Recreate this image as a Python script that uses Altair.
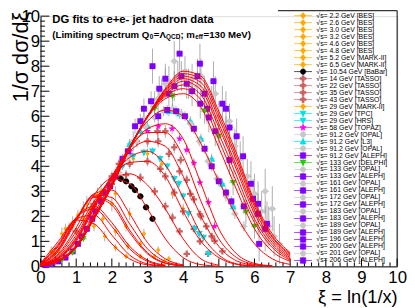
import altair as alt
import pandas as pd

# ---------------- data ----------------
XI = [0.0, 0.5, 1.0, 1.5, 2.0, 2.5, 3.0, 3.5, 4.0, 4.5, 5.0, 5.5, 6.0, 6.5, 7.0]

FIT_NAMES = ["2.2", "2.6", "3.0", "3.2", "4.6", "4.8", "5.2", "6.5", "10.54", "14", "22", "29",
             "35", "43", "58", "91.2", "133", "161", "172", "183", "189", "196", "200", "206"]
FIT_Y = [
    [0.12, 1.0, 1.85, 1.7, 0.9, 0.3, 0.06, 0.01],
    [0.10, 0.9, 1.9, 2.05, 1.25, 0.45, 0.10, 0.02],
    [0.10, 0.85, 1.95, 2.3, 1.6, 0.7, 0.2, 0.04],
    [0.10, 0.8, 1.95, 2.4, 1.75, 0.8, 0.25, 0.05],
    [0.08, 0.7, 1.9, 2.75, 2.45, 1.35, 0.5, 0.12, 0.02],
    [0.08, 0.7, 1.9, 2.8, 2.55, 1.45, 0.55, 0.14, 0.02],
    [0.08, 0.65, 1.85, 2.85, 2.75, 1.7, 0.7, 0.2, 0.04],
    [0.07, 0.6, 1.8, 2.9, 3.05, 2.1, 0.95, 0.3, 0.06],
    [0.06, 0.5, 1.55, 2.85, 3.5, 3.3, 2.3, 1.1, 0.35, 0.07, 0.01],
    [0.05, 0.45, 1.4, 2.6, 3.45, 3.7, 3.25, 2.3, 1.1, 0.3, 0.05],
    [0.04, 0.4, 1.25, 2.5, 3.55, 4.15, 4.2, 3.6, 2.2, 1.0, 0.35, 0.08, 0.01],
    [0.03, 0.35, 1.15, 2.45, 3.6, 4.35, 4.6, 4.05, 2.75, 1.3, 0.45, 0.1, 0.02],
    [0.03, 0.35, 1.1, 2.4, 3.6, 4.6, 5.0, 4.8, 3.6, 2.0, 0.8, 0.22, 0.05, 0.01],
    [0.03, 0.32, 1.05, 2.35, 3.6, 4.75, 5.35, 5.35, 4.4, 2.6, 1.1, 0.35, 0.08, 0.01],
    [0.03, 0.3, 1.0, 2.3, 3.5, 4.7, 5.5, 5.7, 5.1, 3.3, 1.5, 0.5, 0.12, 0.02],
    [0.02, 0.25, 0.85, 2.1, 3.4, 4.8, 5.8, 6.25, 6.0, 4.9, 3.4, 2.0, 0.9, 0.3, 0.08],
    [0.02, 0.22, 0.8, 2.0, 3.3, 4.78, 5.95, 6.7, 6.9, 6.35, 4.75, 3.05, 1.5, 0.6, 0.2],
    [0.02, 0.21, 0.79, 1.97, 3.27, 4.76, 5.98, 6.8, 7.1, 6.65, 5.05, 3.35, 1.75, 0.75, 0.25],
    [0.02, 0.21, 0.78, 1.95, 3.25, 4.75, 6.0, 6.85, 7.25, 6.85, 5.3, 3.6, 1.9, 0.85, 0.3],
    [0.02, 0.2, 0.77, 1.93, 3.23, 4.73, 6.0, 6.9, 7.4, 7.05, 5.55, 3.85, 2.1, 0.95, 0.35],
    [0.02, 0.2, 0.76, 1.92, 3.22, 4.72, 6.0, 6.95, 7.5, 7.2, 5.7, 4.0, 2.25, 1.05, 0.4],
    [0.02, 0.2, 0.75, 1.9, 3.2, 4.7, 6.0, 7.0, 7.6, 7.35, 5.9, 4.2, 2.4, 1.15, 0.45],
    [0.02, 0.2, 0.75, 1.9, 3.2, 4.7, 6.0, 7.05, 7.7, 7.5, 6.05, 4.35, 2.5, 1.2, 0.5],
    [0.02, 0.2, 0.75, 1.9, 3.2, 4.7, 6.0, 7.1, 7.8, 7.6, 6.2, 4.5, 2.6, 1.3, 0.55],
]

# data points (xi, value, error)
BES_PTS = [
    (0.30, 0.60, 0.20), (0.60, 1.30, 0.25), (0.90, 1.75, 0.25), (1.20, 1.90, 0.20), (1.50, 1.60, 0.20),
    (1.80, 1.20, 0.20), (2.10, 0.75, 0.15), (2.40, 0.40, 0.10),
    (0.35, 0.55, 0.20), (0.70, 1.50, 0.20), (1.05, 2.05, 0.20), (1.40, 2.30, 0.25), (1.75, 1.90, 0.20),
    (2.10, 1.40, 0.20), (2.45, 0.80, 0.15), (2.80, 0.40, 0.10),
    (0.40, 0.50, 0.20), (0.80, 1.50, 0.25), (1.20, 2.30, 0.30), (1.60, 2.85, 0.30), (2.00, 2.50, 0.30),
    (2.40, 1.60, 0.20), (2.80, 0.90, 0.15), (3.20, 0.40, 0.10),
    (0.50, 0.60, 0.20), (0.90, 1.60, 0.25), (1.30, 2.50, 0.30), (1.70, 3.00, 0.30), (2.10, 2.90, 0.30),
    (2.50, 2.10, 0.25), (2.90, 1.30, 0.20), (3.30, 0.65, 0.15), (3.60, 0.30, 0.10),
    (2.60, 4.30, 0.20), (3.00, 4.50, 0.20), (3.40, 4.10, 0.20), (3.70, 2.90, 0.20), (4.00, 2.30, 0.20),
    (3.47, 0.20, 0.05),
]
BABAR_PTS = [(2.25, 3.50, 0.05), (2.40, 3.40, 0.05), (2.55, 3.20, 0.05), (2.65, 3.05, 0.05),
             (2.80, 2.80, 0.05), (2.96, 2.36, 0.05), (3.14, 1.90, 0.05)]
TASSO_PTS = [
    (1.00, 1.40, 0.15), (1.50, 2.50, 0.20), (2.00, 3.30, 0.20), (2.40, 3.65, 0.20), (2.80, 3.55, 0.20),
    (3.20, 3.00, 0.20), (3.50, 2.40, 0.20), (3.70, 1.95, 0.20), (3.90, 1.40, 0.15), (4.10, 0.50, 0.10),
    (1.50, 2.40, 0.20), (2.00, 3.50, 0.20), (2.50, 4.10, 0.20), (3.00, 4.20, 0.20), (3.36, 3.90, 0.20),
    (3.50, 3.60, 0.20), (3.75, 2.95, 0.20), (4.00, 2.20, 0.20), (4.30, 1.50, 0.15), (4.47, 1.00, 0.15),
    (4.70, 0.50, 0.10),
    (2.00, 3.60, 0.20), (2.50, 4.50, 0.20), (3.00, 5.00, 0.25), (3.30, 5.00, 0.25), (3.60, 4.50, 0.25),
    (3.90, 3.80, 0.20), (4.20, 2.90, 0.20), (4.50, 2.00, 0.20), (4.80, 1.20, 0.15), (5.10, 0.60, 0.10),
    (2.20, 4.10, 0.20), (2.70, 5.00, 0.25), (3.28, 5.40, 0.25), (3.50, 5.40, 0.25), (3.75, 4.76, 0.25),
    (3.93, 4.25, 0.20), (4.10, 3.46, 0.20), (4.30, 2.68, 0.20), (4.47, 2.08, 0.20), (4.65, 1.60, 0.15),
    (4.88, 1.02, 0.15),
]
TPC_PTS = [(2.00, 3.40, 0.15), (2.30, 4.00, 0.15), (2.60, 4.40, 0.15), (2.90, 4.55, 0.15), (3.14, 4.60, 0.15),
           (3.35, 4.30, 0.15), (3.55, 4.00, 0.15), (3.75, 3.50, 0.15), (3.88, 3.30, 0.15), (4.00, 2.80, 0.15),
           (4.15, 2.10, 0.15), (4.33, 1.50, 0.15), (4.45, 1.30, 0.15), (4.57, 1.15, 0.15), (4.71, 0.50, 0.10)]
L3_PTS = [(2.50, 4.90, 0.2), (2.80, 5.40, 0.2), (3.00, 5.60, 0.2), (3.30, 6.00, 0.2), (3.60, 6.20, 0.2),
          (3.90, 6.10, 0.2), (4.20, 5.80, 0.2), (4.50, 5.10, 0.2), (4.80, 4.30, 0.2), (5.10, 3.30, 0.2),
          (5.40, 2.40, 0.2)]
TOPAZ_PTS = [(2.00, 3.50, 0.2), (2.50, 4.60, 0.2), (3.00, 5.40, 0.2), (3.30, 5.60, 0.2), (3.69, 5.50, 0.2),
             (3.90, 5.10, 0.2), (4.10, 4.65, 0.2), (4.30, 4.13, 0.2), (4.47, 3.35, 0.2), (4.71, 2.56, 0.2),
             (4.88, 1.60, 0.2)]
OPAL_PTS = [
    (0.20, 0.08, 0.05), (0.45, 0.20, 0.05), (0.70, 0.45, 0.08), (0.95, 0.80, 0.10), (1.20, 1.30, 0.10),
    (1.45, 1.90, 0.12), (1.70, 2.55, 0.15), (1.95, 3.20, 0.15), (2.20, 3.75, 0.15), (2.45, 4.40, 0.20),
    (2.70, 5.00, 0.20), (2.95, 5.60, 0.20), (3.20, 5.95, 0.20), (3.45, 6.20, 0.20), (3.70, 6.30, 0.20),
    (3.95, 6.10, 0.20), (4.20, 5.70, 0.20), (4.45, 5.00, 0.20), (4.70, 4.20, 0.20), (4.95, 3.50, 0.20),
    (5.20, 2.80, 0.20), (5.45, 2.10, 0.20), (5.70, 1.60, 0.20),
    (2.60, 5.00, 0.40), (2.90, 5.90, 0.40), (3.20, 6.50, 0.50), (3.40, 7.00, 0.50), (3.60, 7.40, 0.60),
    (3.75, 8.20, 0.80), (3.85, 7.60, 0.60), (4.05, 7.80, 0.60), (4.25, 7.50, 0.60), (4.40, 7.20, 0.60),
    (4.60, 7.00, 0.60), (4.80, 6.60, 0.60), (5.00, 6.00, 0.60), (5.20, 5.40, 0.60), (5.45, 4.80, 0.70),
    (5.60, 4.30, 0.70), (5.80, 3.60, 0.70), (6.00, 2.90, 0.80), (6.20, 2.20, 0.80), (6.40, 1.60, 0.80),
    (6.55, 1.20, 0.80), (6.70, 0.90, 0.80), (6.50, 2.30, 0.90), (6.30, 3.00, 0.90), (5.30, 5.80, 0.70),
    (4.90, 6.90, 0.70), (3.30, 6.70, 0.50), (3.50, 7.30, 0.60), (4.15, 7.30, 0.60), (4.50, 7.60, 0.70),
]
ALEPH_PTS = [
    (0.15, 0.05, 0.03), (0.30, 0.10, 0.05), (0.50, 0.20, 0.05), (0.70, 0.35, 0.08), (0.90, 0.60, 0.10),
    (1.05, 0.90, 0.10), (1.16, 1.20, 0.12), (1.30, 1.50, 0.12), (1.45, 1.90, 0.15), (1.54, 2.20, 0.15),
    (1.70, 2.60, 0.15), (1.82, 2.95, 0.15), (1.95, 3.20, 0.20), (2.10, 3.60, 0.20), (2.30, 4.30, 0.20),
    (2.45, 4.60, 0.25), (2.65, 5.60, 0.30), (2.80, 5.80, 0.30),
    (2.90, 6.30, 0.40), (3.10, 6.60, 0.40), (3.14, 8.00, 0.70), (3.33, 7.10, 0.50), (3.50, 7.50, 0.60),
    (3.60, 6.90, 0.50), (3.75, 7.20, 0.60), (3.90, 8.50, 0.80), (3.95, 7.60, 0.60), (4.10, 7.30, 0.60),
    (4.25, 7.00, 0.60), (4.40, 7.60, 0.70), (4.47, 8.10, 0.80), (4.48, 6.50, 0.60), (4.60, 6.90, 0.60),
    (4.67, 6.30, 0.60), (4.72, 5.95, 0.60), (4.85, 7.40, 0.80), (4.90, 5.40, 0.60), (5.10, 6.50, 0.70),
    (5.20, 6.30, 0.70), (5.30, 5.55, 0.70), (5.30, 4.25, 0.60), (5.50, 5.20, 0.70), (5.68, 4.40, 0.80),
    (5.90, 3.30, 0.90), (5.96, 2.70, 0.80), (6.10, 2.50, 0.90), (6.10, 2.10, 0.80), (6.30, 1.50, 0.90),
    (6.13, 0.90, 0.70), (6.35, 1.70, 0.90),
    (3.30, 6.00, 0.20), (3.55, 6.25, 0.20), (3.80, 6.20, 0.20), (4.05, 6.00, 0.20), (4.30, 5.50, 0.20),
    (4.60, 4.70, 0.20), (4.80, 4.00, 0.20), (5.00, 3.40, 0.20), (5.20, 2.95, 0.20), (5.35, 2.60, 0.20),
    (5.70, 2.40, 0.30),
]
DELPHI_PTS = [(0.30, 0.12, 0.05), (0.60, 0.25, 0.05), (0.90, 0.55, 0.08), (1.20, 1.10, 0.10),
              (3.20, 6.30, 0.40), (3.70, 6.80, 0.40), (4.60, 6.20, 0.50), (5.00, 5.20, 0.50),
              (5.40, 3.35, 0.50), (5.76, 2.17, 0.50), (6.00, 1.60, 0.50)]

LEG_LABELS = [
    "√s= 2.2 GeV [BES]", "√s= 2.6 GeV [BES]", "√s= 3.0 GeV [BES]", "√s= 3.2 GeV [BES]",
    "√s= 4.6 GeV [BES]", "√s= 4.8 GeV [BES]", "√s= 5.2 GeV [MARK-II]", "√s= 6.5 GeV [MARK-II]",
    "√s= 10.54 GeV [BaBar]", "√s= 14 GeV [TASSO]", "√s= 22 GeV [TASSO]", "√s= 35 GeV [TASSO]",
    "√s= 43 GeV [TASSO]", "√s= 29 GeV [MARK-II]", "√s= 29 GeV [TPC]", "√s= 29 GeV [HRS]",
    "√s= 58 GeV [TOPAZ]", "√s= 91.2 GeV [OPAL]", "√s= 91.2 GeV [L3]", "√s= 91.2 GeV [OPAL] ",
    "√s= 91.2 GeV [ALEPH]", "√s= 133 GeV [DELPHI]", "√s= 133 GeV [OPAL]", "√s= 133 GeV [ALEPH]",
    "√s= 161 GeV [OPAL]", "√s= 161 GeV [ALEPH]", "√s= 172 GeV [OPAL]", "√s= 172 GeV [ALEPH]",
    "√s= 183 GeV [OPAL]", "√s= 183 GeV [ALEPH]", "√s= 189 GeV [OPAL]", "√s= 189 GeV [ALEPH]",
    "√s= 196 GeV [ALEPH]", "√s= 200 GeV [ALEPH]", "√s= 201 GeV [OPAL]", "√s= 206 GeV [ALEPH]",
]
LEG_KIND = ["bes"] * 8 + ["babar"] + ["tasso"] * 4 + ["bes", "tpc", "tpc", "topaz", "opal", "l3", "opal",
            "aleph", "delphi", "opal", "aleph", "opal", "aleph", "opal", "aleph", "opal", "aleph",
            "opal", "aleph", "aleph", "aleph", "opal", "aleph"]

# ---------------- styles ----------------
COL = {"bes": "#ffaa00", "babar": "#000000", "tasso": "#c86464", "tpc": "#00e0e8", "l3": "#00e0e8",
       "topaz": "#ff00ff", "opal": "#c8c8c8", "aleph": "#8000ff", "delphi": "#22cc00"}
MARK = {
    "dia": "M0,-1.15L1,0L0,1.15L-1,0Z",
    "circ": "M-1,0A1,1 0 1,0 1,0A1,1 0 1,0 -1,0Z",
    "sq": "M-1,-1H1V1H-1Z",
    "tdn": "M-1.1,-0.9H1.1L0,1.1Z",
    "tup": "M-1.1,0.9H1.1L0,-1.1Z",
    "star": "M0,-1.2L0.282,-0.388L1.141,-0.371L0.457,0.148L0.705,0.971L0,0.48L-0.705,0.971"
            "L-0.457,0.148L-1.141,-0.371L-0.282,-0.388Z",
    "cross": "M-0.38,-1.1H0.38V-0.38H1.1V0.38H0.38V1.1H-0.38V0.38H-1.1V-0.38H-0.38Z",
}
SHP = {"bes": "dia", "babar": "circ", "tasso": "cross", "tpc": "tdn", "l3": "tup", "topaz": "star",
       "opal": "circ", "aleph": "sq", "delphi": "tdn"}
SIZE = {"bes": 20, "babar": 40, "tasso": 36, "tpc": 42, "l3": 42, "topaz": 40, "opal": 30, "aleph": 36,
        "delphi": 36}
XERR = {"bes": 0.04, "babar": 0.03, "tasso": 0.08, "tpc": 0.06, "l3": 0.08, "topaz": 0.08, "opal": 0.1,
        "aleph": 0.1, "delphi": 0.1}
GROUPS = [("bes", BES_PTS), ("babar", BABAR_PTS), ("tasso", TASSO_PTS), ("tpc", TPC_PTS),
          ("topaz", TOPAZ_PTS), ("l3", L3_PTS), ("opal", OPAL_PTS), ("aleph", ALEPH_PTS),
          ("delphi", DELPHI_PTS)]

FONT = "Liberation Sans"
XS = alt.Scale(domain=[0, 10], nice=False, zero=False)
YS = alt.Scale(domain=[0, 10], nice=False, zero=False)
XAX = alt.Axis(values=list(range(11)), ticks=False, grid=False, domainColor="black", domainWidth=1,
               labelFont=FONT, labelFontSize=17, labelColor="black", labelPadding=3, labelFlush=False,
               labelOverlap=False, format="d", title="ξ = ln(1/x)", titleFont=FONT, titleFontSize=18.5,
               titleFontWeight="normal", titleColor="black", titleX=362, titleY=31, titleAlign="right",
               titleBaseline="middle")
YAX = alt.Axis(values=list(range(11)), ticks=False, grid=False, domainColor="black", domainWidth=1,
               labelFont=FONT, labelFontSize=17, labelColor="black", labelPadding=1, labelFlush=False,
               labelOverlap=False, format="d", title="1/σ dσ/dξ", titleFont=FONT, titleFontSize=22,
               titleFontWeight="normal", titleColor="black", titleAngle=270, titleX=-20, titleY=-5,
               titleAlign="right", titleBaseline="middle")


def X(f):
    return alt.X(f, type="quantitative", scale=XS, axis=XAX)


def Y(f):
    return alt.Y(f, type="quantitative", scale=YS, axis=YAX)


layers = []

# inner ticks (ROOT style)
MAJ = list(range(11))
MIN = [i / 5 for i in range(51) if i % 5]
tk_maj = pd.DataFrame({"v": MAJ})
tk_min = pd.DataFrame({"v": MIN})
layers.append(alt.Chart(tk_maj).mark_rule(color="black", strokeWidth=1).encode(
    y=Y("v"), x=alt.value(0), x2=alt.value(9)))
layers.append(alt.Chart(tk_min).mark_rule(color="black", strokeWidth=1).encode(
    y=Y("v"), x=alt.value(0), x2=alt.value(4.5)))
layers.append(alt.Chart(tk_maj).mark_rule(color="black", strokeWidth=1).encode(
    x=X("v"), y=alt.value(254), y2=alt.value(246)))
layers.append(alt.Chart(tk_min).mark_rule(color="black", strokeWidth=1).encode(
    x=X("v"), y=alt.value(254), y2=alt.value(250)))

# error bars
rows = []
for g, pts in GROUPS:
    for (a, b, e) in pts:
        rows.append({"x": a, "y": b, "lo": max(b - e, 0), "hi": b + e,
                     "xl": a - XERR[g], "xh": a + XERR[g], "g": g})
pdf = pd.DataFrame(rows)
layers.append(alt.Chart(pdf).mark_rule(color="#8a8a8a", strokeWidth=0.7).encode(
    x=X("x"), y=Y("lo"), y2="hi"))
layers.append(alt.Chart(pdf).mark_rule(color="#8a8a8a", strokeWidth=0.7).encode(
    x=X("xl"), x2="xh", y=Y("y")))

# markers
for g, pts in GROUPS:
    d = pdf[pdf.g == g]
    layers.append(alt.Chart(d).mark_point(filled=True, opacity=1, shape=MARK[SHP[g]], size=SIZE[g],
                                          color=COL[g], strokeWidth=0).encode(x=X("x"), y=Y("y")))

# fit curves
crow = []
for name, ys in zip(FIT_NAMES, FIT_Y):
    for a, b in zip(XI, ys):
        crow.append({"x": a, "y": b, "fit": name})
cdf = pd.DataFrame(crow)
layers.append(alt.Chart(cdf).mark_line(color="#ff0000", strokeWidth=1, interpolate="monotone").encode(
    x=X("x"), y=Y("y"), detail="fit:N"))

# legend (built from the scales of an empty layer)
LEGLINE = "M-3.3,0H3.3M0,-1.2V1.2"
leg_paths = [LEGLINE + MARK[SHP[k]] for k in LEG_KIND]
leg_cols = [COL[k] for k in LEG_KIND]
LEG = alt.Legend(orient="none", legendX=241, legendY=-6, title=None, labelFont=FONT, labelFontSize=7,
                 labelColor="black", symbolSize=30, symbolStrokeWidth=0.7, rowPadding=-0.9, padding=2,
                 clipHeight=7, symbolOffset=20, labelOffset=10, labelLimit=300, symbolLimit=100)
legdf = pd.DataFrame({"lab": LEG_LABELS})
layers.append(alt.Chart(legdf).transform_filter("false").mark_point(filled=True, opacity=1).encode(
    fill=alt.Fill("lab:N", scale=alt.Scale(domain=LEG_LABELS, range=leg_cols), legend=LEG),
    stroke=alt.Stroke("lab:N", scale=alt.Scale(domain=LEG_LABELS, range=leg_cols), legend=LEG),
    shape=alt.Shape("lab:N", scale=alt.Scale(domain=LEG_LABELS, range=leg_paths), legend=LEG),
))

# legend box edges
one = pd.DataFrame({"a": [0]})
layers.append(alt.Chart(one).mark_rule(color="black", strokeWidth=1).encode(
    x=alt.value(241), x2=alt.value(362), y=alt.value(-5.5)))
layers.append(alt.Chart(one).mark_rule(color="black", strokeWidth=1).encode(
    x=alt.value(362), y=alt.value(-5.5), y2=alt.value(254)))

# in-plot title text
TXT = [("DG fits to e+e- jet hadron data", 12, 4, 11.5),
       ("(Limiting spectrum Q", 12, 19, 9.8), ("0", 111, 21.5, 6.5), ("=Λ", 115, 19, 9.8),
       ("QCD", 127.5, 21.5, 6.5), ("; m", 142, 19, 9.8), ("eff", 157, 21.5, 6.5),
       ("=130 MeV)", 165.5, 19, 9.8)]
for t, px, py, fs in TXT:
    layers.append(alt.Chart(one).mark_text(text=t, font=FONT, fontSize=fs, fontWeight="bold",
                                           align="left", baseline="middle", color="black").encode(
        x=alt.value(px), y=alt.value(py)))

chart = alt.layer(*layers).properties(
    width=362, height=254,
    autosize=alt.AutoSizeParams(type="none"),
    padding={"left": 33, "top": 6, "right": 10, "bottom": 40},
).configure_view(stroke=None).configure(background="white")

chart.save("out.html", embed_options={"renderer": "svg", "actions": False})
